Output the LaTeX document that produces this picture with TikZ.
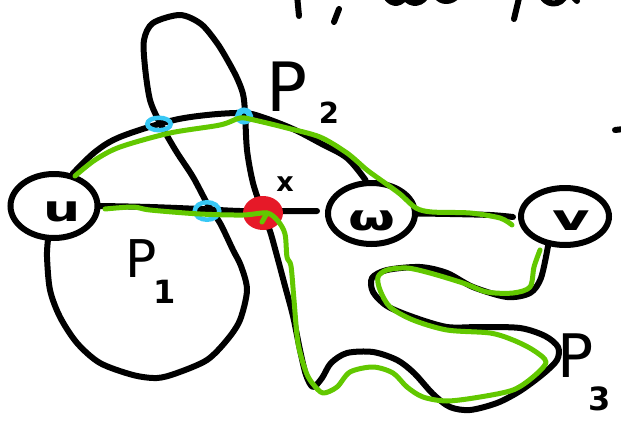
\documentclass[tikz,border=0pt]{standalone}
\usepackage{fontspec}
\setmainfont{DejaVu Sans}
\usetikzlibrary{shapes.geometric}
\definecolor{pathgreen}{RGB}{98,200,0}
\definecolor{markblue}{RGB}{56,200,245}
\definecolor{xred}{RGB}{230,25,40}
\begin{document}
\begin{tikzpicture}[x=1pt,y=-1pt,
  ink/.style={line width=6pt, line cap=round, line join=round},
  gpath/.style={pathgreen, line width=5pt, line cap=round, line join=round},
  vert/.style={ellipse, draw, line width=6pt, inner sep=0pt},
  lab/.style={inner sep=0pt, font=\bfseries\fontsize{36}{40}\selectfont},
  plab/.style={inner sep=0pt, font=\fontsize{#1}{#1}\selectfont},
  slab/.style={inner sep=0pt, font=\bfseries\fontsize{#1}{#1}\selectfont},
  bring/.style={ellipse, draw=markblue, inner sep=0pt},
  reddot/.style={ellipse, fill=xred, inner sep=0pt}]
\useasboundingbox (0,0) rectangle (621,423);

% vertices
\node[vert, minimum width=87pt, minimum height=64pt] (u) at (54,206) {};
\node[vert, minimum width=87pt, minimum height=61pt] (w) at (371.5,213.5) {};
\node[vert, minimum width=88pt, minimum height=57pt] (v) at (565,216.5) {};
\node[lab] (ul) at (62,212) {\scalebox{1.45}[1]{u}};
\node[lab] (wl) at (372,221) {\scalebox{1.5}[1]{ω}};
\node[lab] (vl) at (571,221) {\scalebox{1.6}[1]{v}};

% black edges
\draw[ink] plot[smooth, tension=0.55] coordinates {(u.60) (95,152) (120,137) (170,121) (207,115) (243,113) (262,117) (293,129) (320,143) (347,158) (w.100)};
\coordinate (hend) at (317,211);
\draw[ink] plot[smooth, tension=0.55] coordinates {(u.east) (150,207) (200,209) (240,211) (280,211) (hend)};
\coordinate (wvend) at (513,217);
\draw[ink] plot[smooth, tension=0.55] coordinates {(w.east) (450,214) (490,215) (wvend)};
\draw[ink] plot[smooth, tension=0.5] coordinates {(u.-100) (47,257) (50,290) (60,317) (77,343) (100,363) (133,375) (157,378) (177,373) (207,360) (227,340) (240,320) (247,290) (241,266) (233,250) (220,223) (208,205) (193,177) (176,151) (160,123) (150,100) (145,67) (144,40) (153,23) (180,15) (201,24) (217,43) (228,61) (237,78) (243,94) (245,112) (247,150) (253,183) (262,210) (270,231) (277,256) (285,286) (293,316) (300,350) (306,375) (313,387) (322,378) (331,363) (347,353) (373,352) (397,360) (414,373) (433,394) (450,407) (470,410) (497,403) (520,391) (543,374) (557,360) (558,347) (545,336) (520,328) (480,327) (447,327) (413,317) (387,306) (373,292) (372,278) (387,270) (420,267) (447,273) (473,287) (507,297) (530,293) (541,278) (v.-120)};

% cut-off handwriting at the top and side mark
\draw[ink] (297,-5) -- (299,16);
\draw[ink] (339,9) -- (334,22);
\draw[ink] (384,-8) .. controls (388,5) and (400,6) .. (405,-3) .. controls (410,6) and (424,5) .. (428,-8);
\draw[ink] (436,-5) .. controls (440,3) and (452,3) .. (458,-5);
\draw[ink] (520,-6) -- (514,19);
\draw[ink] (540,-8) .. controls (544,7) and (562,7) .. (566,-6);
\draw[ink] (574,-2) -- (577,1);
\draw[ink] (615,130) -- (624,129);

% red vertex x and blue marks
\node[reddot, minimum width=40pt, minimum height=34pt] (xdot) at (263,213) {};
\node[bring, line width=4.5pt, minimum width=23.5pt, minimum height=12.5pt] (b1) at (159,124) {};
\node[bring, line width=6pt, minimum width=12pt, minimum height=11pt] (b2) at (244,116) {};
\node[bring, line width=4.5pt, minimum width=24.5pt, minimum height=17.5pt] (b3) at (207,211) {};

% green paths
\coordinate (g1s) at (75,176);
\coordinate (g1e) at (512,225);
\draw[gpath] plot[smooth, tension=0.5] coordinates {(g1s) (95,160) (120,147) (170,133) (220,125) (240,118) (254,120) (287,128) (320,137) (347,153) (367,170) (385,183) (400,194) (416,208) (432,212) (470,213) (500,218) (g1e)};
\coordinate (g2s) at (105,209);
\coordinate (g2e) at (540,250);
\draw[gpath] plot[smooth, tension=0.5] coordinates {(g2s) (133,207) (150,210) (200,214) (243,215) (267,213) (278,221) (285,234) (287,257) (291,266) (294,300) (298,343) (306,372) (313,384) (323,393) (337,387) (350,372) (373,367) (393,373) (407,387) (423,397) (447,401) (480,397) (513,390) (533,377) (546,362) (533,350) (513,340) (490,333) (447,330) (413,320) (390,307) (380,290) (378,277) (387,270) (407,268) (430,273) (463,283) (487,292) (513,293) (530,287) (534,267) (g2e)};
\draw[gpath] (267,213) -- (262,222);

% labels
\node[lab, font=\bfseries\fontsize{27}{30}\selectfont] (xl) at (285,184) {x};
\node[plab=52] (p1) at (141,259) {P};
\node[slab=32] (p1s) at (165,292) {1};
\node[plab=68] (p2) at (287,87) {P};
\node[slab=29] (p2s) at (329,113) {2};
\node[plab=60] (p3) at (576,356) {P};
\node[slab=32] (p3s) at (600,399) {3};
\end{tikzpicture}
\end{document}
